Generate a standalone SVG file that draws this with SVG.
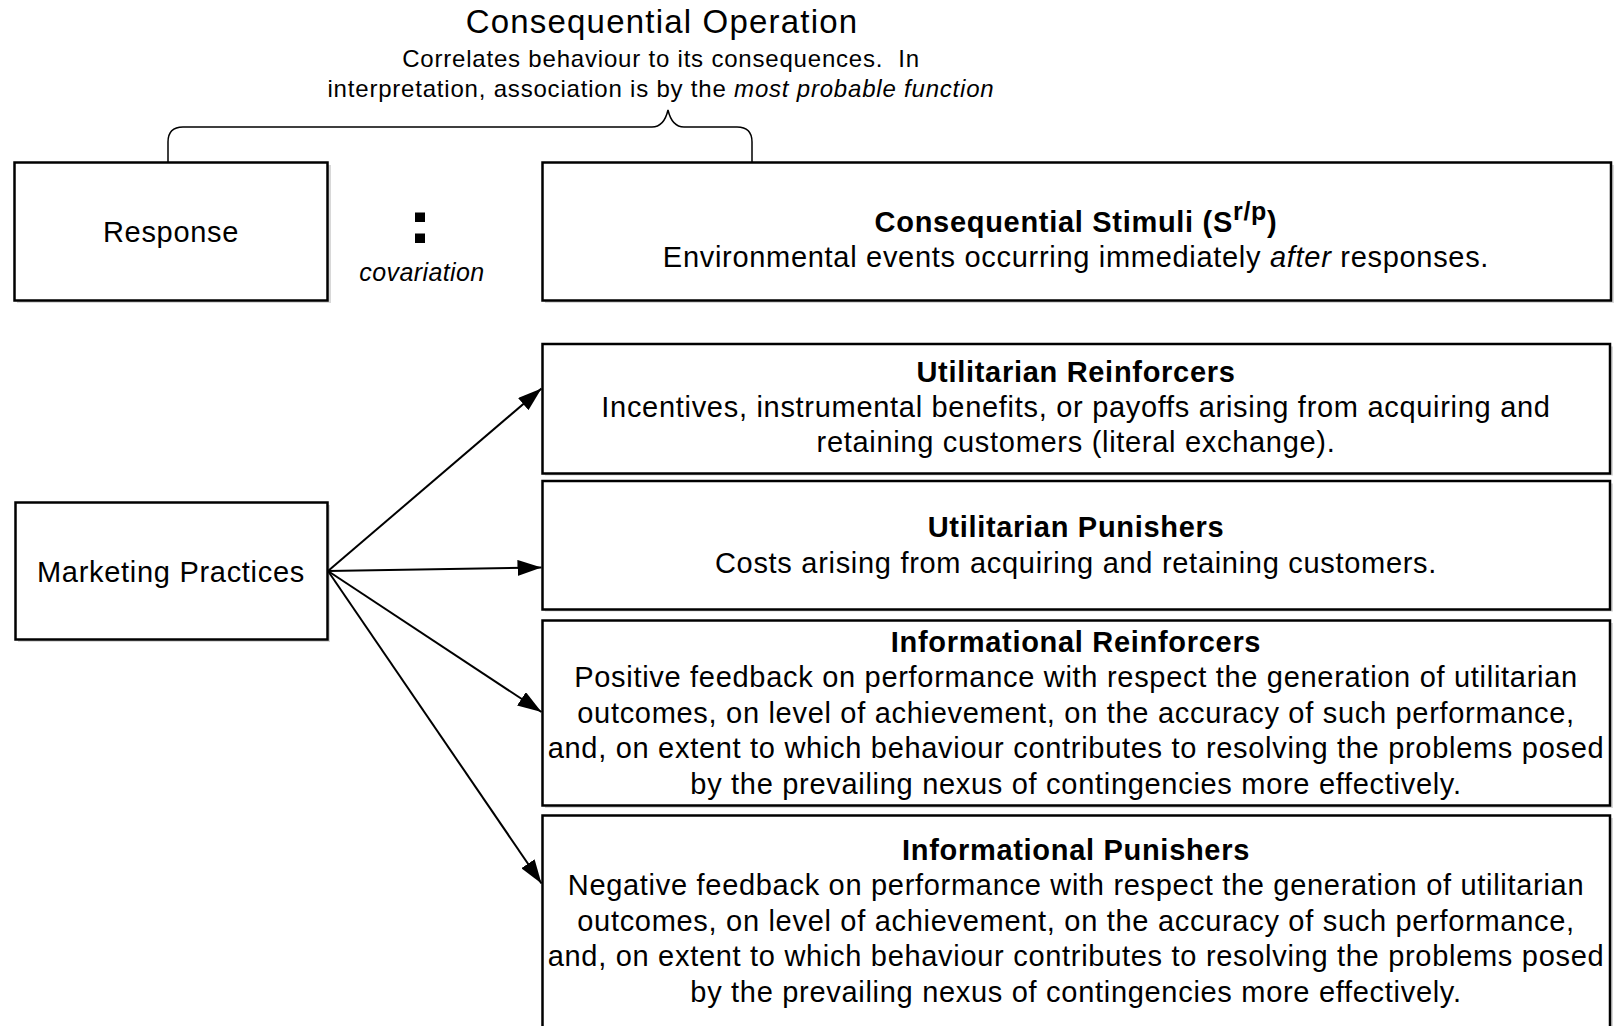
<svg xmlns="http://www.w3.org/2000/svg" width="1619" height="1026" viewBox="0 0 1619 1026">
<style>
text{font-family:"Liberation Sans",Arial,sans-serif;fill:#000}
.box{fill:#fff;stroke:#000;stroke-width:2.5}
.shadow{fill:#d8d8d8}
.t{font-size:29px;letter-spacing:0.7px;text-anchor:middle}
.b{font-size:29px;letter-spacing:0.7px;font-weight:bold;text-anchor:middle}
.sub{font-size:24px;letter-spacing:0.8px;text-anchor:middle;white-space:pre}
.conn{stroke:#000;stroke-width:2;fill:none}
</style>
<defs>
<marker id="ah" markerWidth="24" markerHeight="16" refX="24" refY="8" orient="auto" markerUnits="userSpaceOnUse">
<path d="M0,0 L24,8 L0,16 Z" fill="#000"/>
</marker>
</defs>
<rect width="1619" height="1026" fill="#fff"/>
<g id="header">
<text x="662" y="33" style="font-size:33px;letter-spacing:1.2px;text-anchor:middle">Consequential Operation</text>
<text class="sub" x="661" y="67" xml:space="preserve">Correlates behaviour to its consequences.  In</text>
<text class="sub" x="661" y="97">interpretation, association is by the <tspan font-style="italic">most probable function</tspan></text>
<path d="M168,163 V142 Q168,127 183,127 H652 Q664,127 668,110 Q672,127 684,127 H737 Q752,127 752,142 V163" fill="none" stroke="#000" stroke-width="1.5"/>
</g>
<g id="response">
<rect class="shadow" x="17" y="165" width="314" height="138"/>
<rect class="box" x="14.5" y="162.5" width="313" height="138"/>
<text class="t" x="171" y="242">Response</text>
</g>
<g id="covariation">
<rect x="415" y="212.5" width="10" height="9.5" fill="#000"/>
<rect x="415" y="233.5" width="10" height="9.5" fill="#000"/>
<text x="422" y="281" style="font-size:25px;letter-spacing:0.4px;font-style:italic;text-anchor:middle">covariation</text>
</g>
<g id="stimuli">
<rect class="shadow" x="545" y="165" width="1069" height="138"/>
<rect class="box" x="542.5" y="162.5" width="1068.5" height="138"/>
<text class="b" x="1076" y="232">Consequential Stimuli (S<tspan dy="-12" font-size="25">r/p</tspan><tspan dy="12">)</tspan></text>
<text class="t" x="1076" y="267">Environmental events occurring immediately <tspan font-style="italic">after</tspan> responses.</text>
</g>
<g id="marketing">
<rect class="shadow" x="18" y="505" width="312" height="137"/>
<rect class="box" x="15.5" y="502.5" width="312" height="137"/>
<text class="t" x="171" y="582">Marketing Practices</text>
</g>
<g id="util-reinforcers">
<rect class="shadow" x="545" y="346.5" width="1068" height="129"/>
<rect class="box" x="542.5" y="344" width="1067.5" height="129.5"/>
<text class="b" x="1076" y="382">Utilitarian Reinforcers</text>
<text class="t" x="1076" y="417">Incentives, instrumental benefits, or payoffs arising from acquiring and</text>
<text class="t" x="1076" y="452">retaining customers (literal exchange).</text>
</g>
<g id="util-punishers">
<rect class="shadow" x="545" y="483.5" width="1068" height="128"/>
<rect class="box" x="542.5" y="481" width="1067.5" height="128.5"/>
<text class="b" x="1076" y="537">Utilitarian Punishers</text>
<text class="t" x="1076" y="573">Costs arising from acquiring and retaining customers.</text>
</g>
<g id="info-reinforcers">
<rect class="shadow" x="545" y="623" width="1068" height="185"/>
<rect class="box" x="542.5" y="620.5" width="1067.5" height="185"/>
<text class="b" x="1076" y="652">Informational Reinforcers</text>
<text class="t" x="1076" y="687">Positive feedback on performance with respect the generation of utilitarian</text>
<text class="t" x="1076" y="723">outcomes, on level of achievement, on the accuracy of such performance,</text>
<text class="t" x="1076" y="758">and, on extent to which behaviour contributes to resolving the problems posed</text>
<text class="t" x="1076" y="794">by the prevailing nexus of contingencies more effectively.</text>
</g>
<g id="info-punishers">
<rect class="shadow" x="545" y="818" width="1068" height="220"/>
<rect class="box" x="542.5" y="815.5" width="1067.5" height="220"/>
<text class="b" x="1076" y="860">Informational Punishers</text>
<text class="t" x="1076" y="895">Negative feedback on performance with respect the generation of utilitarian</text>
<text class="t" x="1076" y="931">outcomes, on level of achievement, on the accuracy of such performance,</text>
<text class="t" x="1076" y="966">and, on extent to which behaviour contributes to resolving the problems posed</text>
<text class="t" x="1076" y="1002">by the prevailing nexus of contingencies more effectively.</text>
</g>
<g id="connectors">
<line class="conn" x1="328" y1="571" x2="541.5" y2="388.5" marker-end="url(#ah)"/>
<line class="conn" x1="328" y1="571" x2="541.5" y2="567.5" marker-end="url(#ah)"/>
<line class="conn" x1="328" y1="571" x2="541.5" y2="712" marker-end="url(#ah)"/>
<line class="conn" x1="328" y1="571" x2="541.5" y2="883.5" marker-end="url(#ah)"/>
</g>
</svg>
